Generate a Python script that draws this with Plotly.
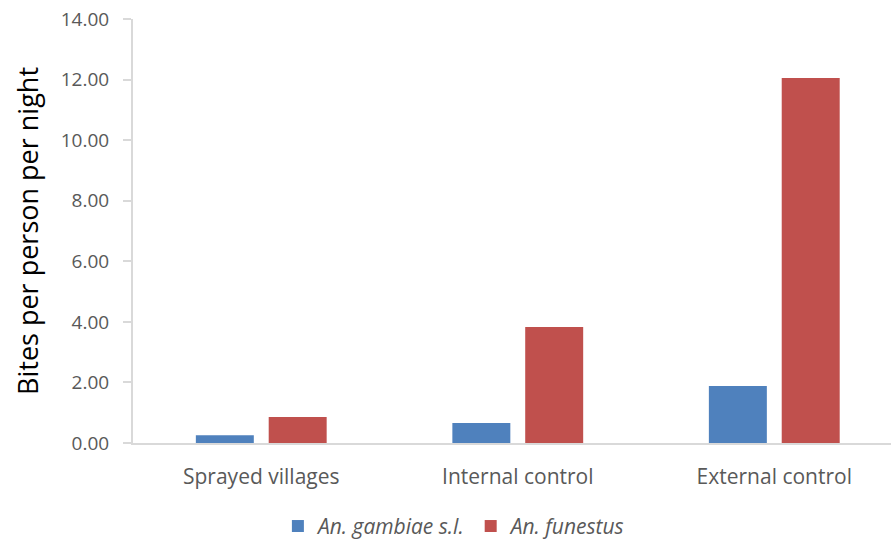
import plotly.graph_objects as go

categories = ["Sprayed villages", "Internal control", "External control"]
gambiae = [0.26, 0.66, 1.88]
funestus = [0.86, 3.83, 12.05]
series_names = ["<i>An. gambiae s.l.</i>", "<i>An. funestus</i>"]
y_ticks = [0, 2, 4, 6, 8, 10, 12, 14]

BLUE = "#4F81BD"
RED = "#C0504D"
AXIS = "#D9D9D9"
TEXT = "#595959"
FONT = "Open Sans"

bar_w = 0.226
fig = go.Figure()
fig.add_trace(go.Bar(x=categories, y=gambiae, name=series_names[0],
                     marker=dict(color=BLUE, line=dict(width=0)),
                     width=bar_w, offset=-0.255))
fig.add_trace(go.Bar(x=categories, y=funestus, name=series_names[1],
                     marker=dict(color=RED, line=dict(width=0)),
                     width=bar_w, offset=0.029))

fig.update_layout(
    width=891, height=540,
    margin=dict(l=133, r=0, t=19, b=97, autoexpand=False),
    paper_bgcolor="white", plot_bgcolor="white",
    font=dict(family=FONT, color=TEXT, size=19),
    barmode="overlay",
    showlegend=True,
    legend=dict(orientation="h", x=0.424, xanchor="center",
                y=-0.245, yanchor="bottom",
                font=dict(family=FONT, size=21, color=TEXT),
                traceorder="normal", itemwidth=30,
                bgcolor="rgba(0,0,0,0)"),
    xaxis=dict(
        type="category", range=[-0.5, 2.455],
        showline=True, linecolor=AXIS, linewidth=2,
        ticks="", showgrid=False, zeroline=False,
        tickfont=dict(family=FONT, size=21, color=TEXT),
        ticklabelstandoff=14,
    ),
    yaxis=dict(
        range=[0, 14], tickvals=y_ticks, tickformat=".2f",
        showline=True, linecolor=AXIS, linewidth=2,
        ticks="outside", ticklen=8, tickcolor=AXIS, tickwidth=2,
        showgrid=False, zeroline=False,
        tickfont=dict(family=FONT, size=19, color=TEXT),
        ticklabelstandoff=10,
        title=dict(text="Bites per person per night",
                   font=dict(family=FONT, size=27, color="black"),
                   standoff=14),
    ),
)

fig.write_html("out.html")
